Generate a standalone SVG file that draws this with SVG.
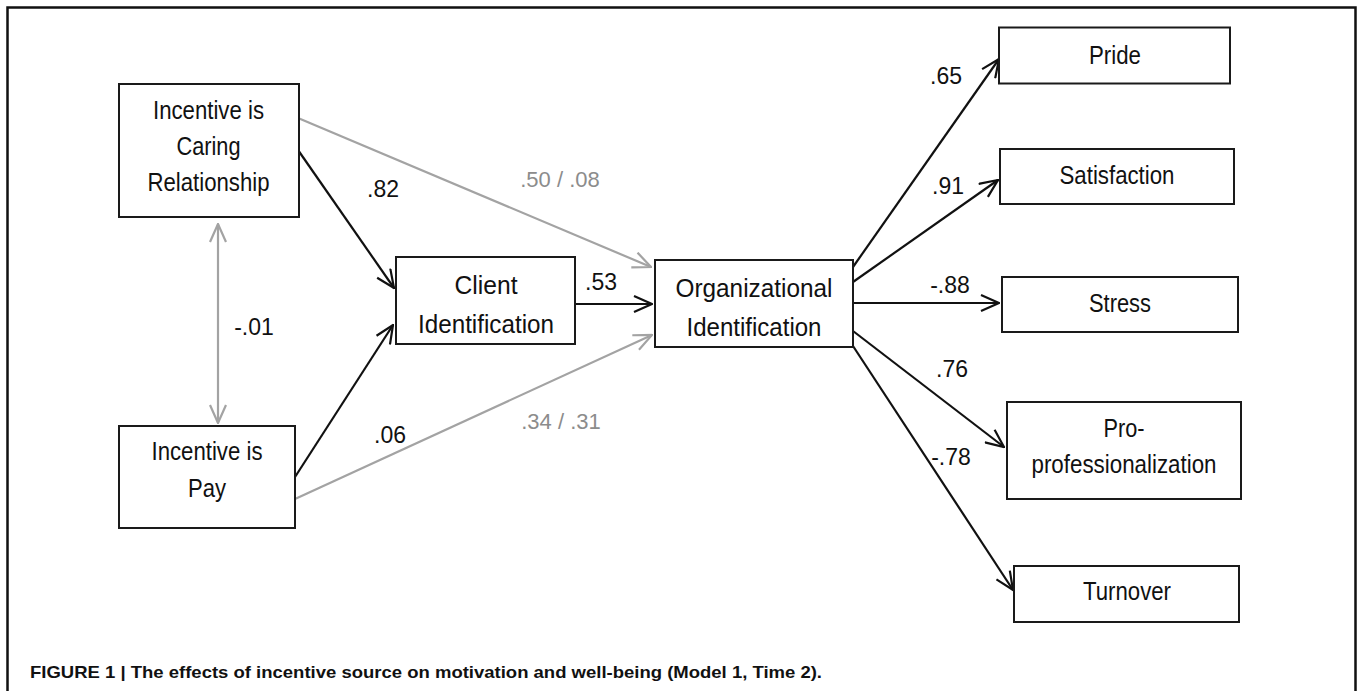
<svg xmlns="http://www.w3.org/2000/svg" width="1359" height="691" viewBox="0 0 1359 691">
<style>
  .box{fill:#fff;stroke:#1a1a1a;stroke-width:2}
  .nt{font-family:"Liberation Sans",Arial,sans-serif;font-size:25px;fill:#111;text-anchor:middle}
  .lb{font-family:"Liberation Sans",Arial,sans-serif;font-size:23px;fill:#111;text-anchor:middle}
  .lg{font-family:"Liberation Sans",Arial,sans-serif;font-size:22px;fill:#8c8c8c;text-anchor:middle}
  .cap{font-family:"Liberation Sans",Arial,sans-serif;font-size:16.5px;font-weight:bold;fill:#111}
  .blk{fill:none;stroke:#111;stroke-width:2.2;marker-end:url(#ab)}
  .gry{fill:none;stroke:#a3a3a3;stroke-width:2.2;marker-end:url(#ag)}
</style>
<defs>
  <marker id="ab" viewBox="0 0 20 18" refX="19" refY="9" markerWidth="20" markerHeight="18" markerUnits="userSpaceOnUse" orient="auto">
    <path d="M1,1 L19,9 L1,17" fill="none" stroke="#111" stroke-width="2.2"/>
  </marker>
  <marker id="ag" viewBox="0 0 20 18" refX="19" refY="9" markerWidth="20" markerHeight="18" markerUnits="userSpaceOnUse" orient="auto-start-reverse">
    <path d="M1,1 L19,9 L1,17" fill="none" stroke="#a3a3a3" stroke-width="2.2"/>
  </marker>
</defs>
<rect width="1359" height="691" fill="#fff"/>
<path d="M7.5,700 V7.5 H1355.5 V700" fill="none" stroke="#111" stroke-width="2.5"/>

<g id="connectors">
  <line class="gry" x1="298" y1="118" x2="651" y2="267"/>
  <line class="blk" x1="298" y1="150" x2="394" y2="288"/>
  <line class="blk" x1="575" y1="304" x2="652" y2="304"/>
  <line class="blk" x1="295" y1="477" x2="393" y2="325"/>
  <line class="gry" x1="295" y1="499" x2="652" y2="335"/>
  <line class="gry" x1="218" y1="224" x2="218" y2="423" marker-start="url(#ag)"/>
  <line class="blk" x1="853" y1="267" x2="999" y2="59"/>
  <line class="blk" x1="853" y1="282" x2="998" y2="180"/>
  <line class="blk" x1="853" y1="303" x2="999" y2="303"/>
  <line class="blk" x1="853" y1="331" x2="1004" y2="447"/>
  <line class="blk" x1="853" y1="346" x2="1013" y2="590"/>
  <text class="lb" x="383" y="197">.82</text>
  <text class="lg" x="560" y="187">.50 / .08</text>
  <text class="lb" x="601" y="290">.53</text>
  <text class="lb" x="254" y="335">-.01</text>
  <text class="lb" x="390" y="443">.06</text>
  <text class="lg" x="561" y="429">.34 / .31</text>
  <text class="lb" x="946" y="84">.65</text>
  <text class="lb" x="948" y="194">.91</text>
  <text class="lb" x="950" y="293">-.88</text>
  <text class="lb" x="952" y="377">.76</text>
  <text class="lb" x="951" y="465">-.78</text>
</g>

<g id="caring">
  <rect class="box" x="119" y="84" width="180" height="133"/>
  <text class="nt" x="208.5" y="119" textLength="111" lengthAdjust="spacingAndGlyphs">Incentive is</text>
  <text class="nt" x="208.5" y="155" textLength="64" lengthAdjust="spacingAndGlyphs">Caring</text>
  <text class="nt" x="208.5" y="191" textLength="122" lengthAdjust="spacingAndGlyphs">Relationship</text>
</g>
<g id="client">
  <rect class="box" x="396" y="257" width="179" height="87"/>
  <text class="nt" x="486" y="294" textLength="63" lengthAdjust="spacingAndGlyphs">Client</text>
  <text class="nt" x="486" y="333" textLength="136" lengthAdjust="spacingAndGlyphs">Identification</text>
</g>
<g id="org">
  <rect class="box" x="655" y="260" width="198" height="87"/>
  <text class="nt" x="754" y="296.5" textLength="157" lengthAdjust="spacingAndGlyphs">Organizational</text>
  <text class="nt" x="754" y="335.5" textLength="135" lengthAdjust="spacingAndGlyphs">Identification</text>
</g>
<g id="pay">
  <rect class="box" x="119" y="426" width="176" height="102"/>
  <text class="nt" x="207" y="460" textLength="111" lengthAdjust="spacingAndGlyphs">Incentive is</text>
  <text class="nt" x="207" y="497" textLength="38" lengthAdjust="spacingAndGlyphs">Pay</text>
</g>
<g id="pride">
  <rect class="box" x="999" y="27.5" width="231" height="56"/>
  <text class="nt" x="1115" y="64" textLength="52" lengthAdjust="spacingAndGlyphs">Pride</text>
</g>
<g id="satisfaction">
  <rect class="box" x="1000" y="149" width="234" height="55"/>
  <text class="nt" x="1117" y="184" textLength="115" lengthAdjust="spacingAndGlyphs">Satisfaction</text>
</g>
<g id="stress">
  <rect class="box" x="1002" y="277" width="236" height="55"/>
  <text class="nt" x="1120" y="312" textLength="62" lengthAdjust="spacingAndGlyphs">Stress</text>
</g>
<g id="proprof">
  <rect class="box" x="1007" y="402" width="234" height="97"/>
  <text class="nt" x="1124" y="437" textLength="41" lengthAdjust="spacingAndGlyphs">Pro-</text>
  <text class="nt" x="1124" y="473" textLength="185" lengthAdjust="spacingAndGlyphs">professionalization</text>
</g>
<g id="turnover">
  <rect class="box" x="1014" y="566" width="225" height="56"/>
  <text class="nt" x="1127" y="600" textLength="88" lengthAdjust="spacingAndGlyphs">Turnover</text>
</g>

<text class="cap" x="30" y="678" textLength="792" lengthAdjust="spacingAndGlyphs">FIGURE 1 | The effects of incentive source on motivation and well-being (Model 1, Time 2).</text>
</svg>
